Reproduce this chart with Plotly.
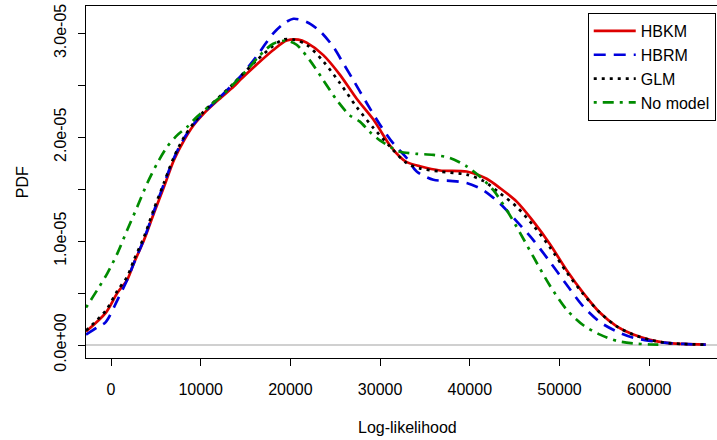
import plotly.graph_objects as go

# ---- data (PDF values in units of 1e-5) ----
hbkm_x = [-2787, -590, 700, 1820, 2560, 3680, 4790, 5900, 7020, 8140, 9250, 10370, 11850, 13710, 14380,
          16240, 18090, 19580, 20880, 21810, 23670, 25530, 27390, 29250, 31100, 32220, 32970, 34450, 36680,
          39650, 41880, 43370, 45230, 47080, 48940, 50800, 52660, 54520, 56380, 58230, 60090, 61950, 63800, 66300]
hbkm_y = [0.13, 0.31, 0.50, 0.63, 0.79, 1.01, 1.27, 1.52, 1.78, 1.97, 2.12, 2.23, 2.35, 2.49, 2.55,
          2.70, 2.84, 2.93, 2.94, 2.91, 2.79, 2.60, 2.37, 2.17, 1.92, 1.81, 1.76, 1.72, 1.68,
          1.67, 1.60, 1.51, 1.38, 1.19, 0.97, 0.72, 0.50, 0.31, 0.18, 0.10, 0.05, 0.02, 0.01, 0.003]

hbrm_x = [-2787, -1530, -590, 700, 1820, 2560, 3680, 4790, 5900, 7020, 8140, 9250, 10370, 11850, 13710,
          14380, 16240, 18090, 19200, 20330, 21810, 23300, 24780, 25900, 27010, 28500, 29990, 31470, 32960,
          34080, 35940, 37790, 39650, 41510, 43370, 45230, 47080, 48940, 50800, 52660, 54520, 56380, 58230,
          60090, 61950, 63800, 66300]
hbrm_y = [0.10, 0.17, 0.22, 0.43, 0.63, 0.79, 1.02, 1.29, 1.55, 1.80, 1.99, 2.13, 2.24, 2.36, 2.52,
          2.58, 2.78, 3.00, 3.09, 3.14, 3.11, 3.02, 2.87, 2.71, 2.55, 2.33, 2.12, 1.94, 1.80,
          1.67, 1.59, 1.58, 1.56, 1.49, 1.36, 1.19, 1.01, 0.80, 0.58, 0.37, 0.22, 0.13, 0.07,
          0.04, 0.02, 0.01, 0.003]

glm_x = [-2787, -590, 700, 1820, 2560, 3680, 4790, 5900, 7020, 8140, 9250, 10370, 11850, 13710, 14380,
         16240, 18090, 19200, 20330, 21810, 23670, 25530, 27390, 29250, 31100, 32970, 34450, 36680, 39650,
         41510, 43370, 45230, 47080, 48940, 50800, 52660, 54520, 56380, 58230, 60090, 61950, 63800, 66300]
glm_y = [0.14, 0.33, 0.52, 0.66, 0.82, 1.04, 1.31, 1.56, 1.81, 2.00, 2.14, 2.25, 2.37, 2.52, 2.58,
         2.74, 2.88, 2.94, 2.94, 2.89, 2.73, 2.52, 2.29, 2.09, 1.91, 1.75, 1.70, 1.67, 1.64,
         1.58, 1.46, 1.33, 1.15, 0.94, 0.70, 0.49, 0.31, 0.18, 0.10, 0.05, 0.02, 0.01, 0.003]

nomodel_x = [-2787, -1530, -410, 700, 1820, 2930, 4050, 5160, 6280, 7390, 8510, 9620, 11110, 12600, 14080,
             15500, 16610, 18090, 19580, 20690, 22170, 23660, 25150, 26630, 27750, 28860, 29980, 31460, 32220,
             34080, 35940, 37790, 39650, 41140, 42630, 44110, 45600, 47080, 48940, 50800, 52660, 54520, 56380,
             58230, 60090, 61400]
nomodel_y = [0.36, 0.53, 0.69, 0.88, 1.11, 1.33, 1.56, 1.75, 1.91, 2.02, 2.10, 2.20, 2.31, 2.42, 2.55,
             2.68, 2.79, 2.90, 2.93, 2.89, 2.74, 2.55, 2.36, 2.21, 2.15, 2.05, 1.97, 1.89, 1.86,
             1.84, 1.83, 1.80, 1.72, 1.62, 1.49, 1.30, 1.08, 0.85, 0.57, 0.34, 0.19, 0.10, 0.04,
             0.016, 0.005, 0.003]

series_names = ["HBKM", "HBRM", "GLM", "No model"]
x_ticks = [0, 10000, 20000, 30000, 40000, 50000, 60000]
x_tick_labels = ["0", "10000", "20000", "30000", "40000", "50000", "60000"]
y_ticks = [0, 0.5e-5, 1.0e-5, 1.5e-5, 2.0e-5, 2.5e-5, 3.0e-5]
y_tick_labels = ["0.0e+00", "", "1.0e-05", "", "2.0e-05", "", "3.0e-05"]

SCALE = 1e-5
FONT = "Liberation Sans, Arial, sans-serif"

styles = [
    dict(color="#dd0000", dash="solid"),
    dict(color="#0000dd", dash="12px,8px"),
    dict(color="#000000", dash="3px,5px"),
    dict(color="#008b00", dash="3px,6px,11px,6px"),
]
data = [(hbkm_x, hbkm_y), (hbrm_x, hbrm_y), (glm_x, glm_y), (nomodel_x, nomodel_y)]

fig = go.Figure()
for name, (xs, ys), st in zip(series_names, data, styles):
    fig.add_trace(go.Scatter(
        x=xs, y=[v * SCALE for v in ys], mode="lines", name=name,
        line=dict(color=st["color"], dash=st["dash"], width=2.7, shape="spline", smoothing=0.8),
    ))

fig.update_layout(
    width=717, height=440,
    margin=dict(l=86, r=0, t=6, b=82),
    paper_bgcolor="white", plot_bgcolor="white",
    font=dict(family=FONT, size=16, color="black"),
    showlegend=True,
    legend=dict(
        x=0.998, xanchor="right", y=0.98, yanchor="top",
        bgcolor="white", bordercolor="black", borderwidth=1,
        font=dict(family=FONT, size=16, color="black"),
        tracegroupgap=0, itemwidth=42,
    ),
    xaxis=dict(
        range=[-2787, 67558], tickvals=x_ticks, ticktext=x_tick_labels,
        showline=True, linecolor="black", linewidth=1, mirror=True,
        ticks="outside", ticklen=7, tickcolor="black", ticklabelstandoff=10,
        showgrid=False, zeroline=False,
        tickfont=dict(family=FONT, size=16, color="black"),
    ),
    yaxis=dict(
        range=[-0.125e-5, 3.263e-5], tickvals=y_ticks, ticktext=y_tick_labels,
        showline=True, linecolor="black", linewidth=1, mirror=False,
        ticks="outside", ticklen=7, tickcolor="black", tickangle=-90, ticklabelstandoff=6,
        showgrid=False, zeroline=True, zerolinecolor="#d0d0d0", zerolinewidth=1.5,
        tickfont=dict(family=FONT, size=16, color="black"),
    ),
    annotations=[
        dict(text="Log-likelihood", xref="paper", yref="paper", x=0.51, y=-0.198,
             xanchor="center", yanchor="middle", showarrow=False,
             font=dict(family=FONT, size=16, color="black")),
        dict(text="PDF", xref="paper", yref="paper", x=-0.101, y=0.5, textangle=-90,
             xanchor="center", yanchor="middle", showarrow=False,
             font=dict(family=FONT, size=16, color="black")),
    ],
)

fig.write_html("out.html")
